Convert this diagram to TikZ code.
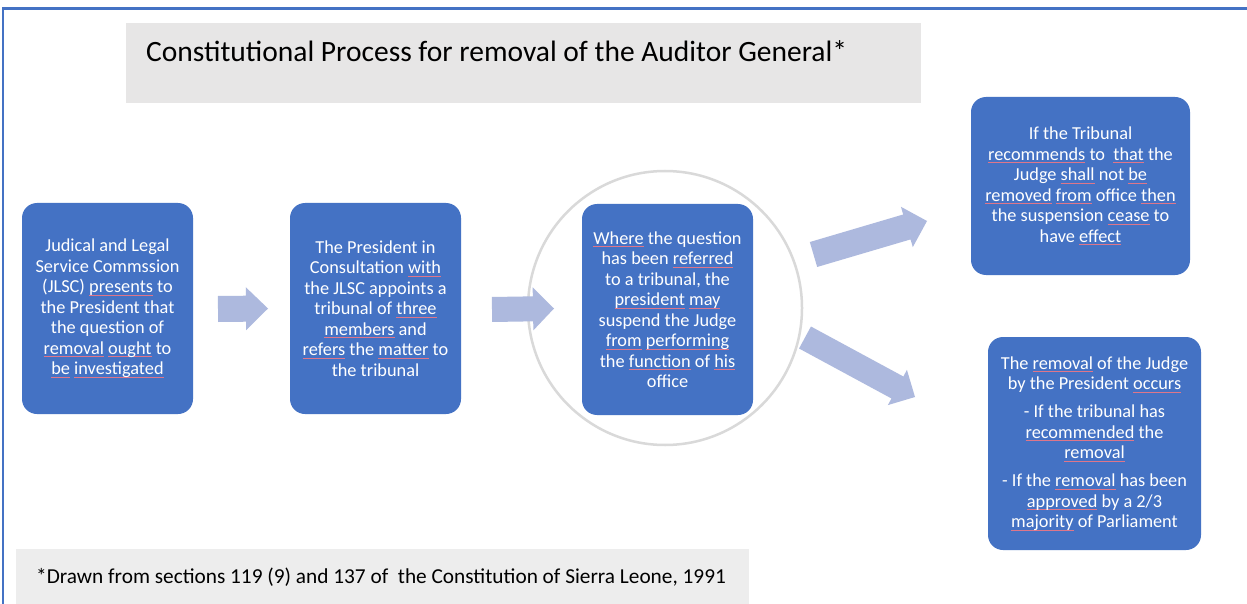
\documentclass[tikz,border=0pt]{standalone}
\usepackage{fontspec}
\setmainfont{Carlito}
\usetikzlibrary{calc}

\definecolor{boxblue}{HTML}{4472C4}
\definecolor{arrowblue}{RGB}{173,185,222}
\definecolor{titlegray}{HTML}{E7E6E6}
\definecolor{notegray}{HTML}{EDEDED}
\definecolor{ringgray}{HTML}{D9D9D9}
\definecolor{spellred}{RGB}{222,118,138}

% thin red underline for flagged words
\newsavebox\spellbox
\newcommand\spell[1]{\sbox\spellbox{#1}%
  \rlap{\textcolor{spellred}{\rule[-3pt]{\wd\spellbox}{1pt}}}\usebox\spellbox}

% block arrow: tail, tip, body half-width, head half-width, head length
\newcommand\blockarrow[5]{%
  \coordinate (neck) at ($(#2)!#5!(#1)$);
  \fill[arrowblue] ($(#1)!#3!90:(#2)$) -- ($(neck)!#3!90:(#2)$)
    -- ($(neck)!#4!90:(#2)$) -- (#2) -- ($(neck)!#4!-90:(#2)$)
    -- ($(neck)!#3!-90:(#2)$) -- ($(#1)!#3!-90:(#2)$) -- cycle;}

\begin{document}
\begin{tikzpicture}[x=1pt,y=-1pt,
  stepbox/.style={rectangle, rounded corners=15pt, fill=boxblue, text=white,
    align=center, inner sep=0pt,
    font=\fontsize{18.3}{20.5}\selectfont},
  banner/.style={rectangle, inner sep=0pt}]
\useasboundingbox (0,0) rectangle (1247,604);
\fill[white] (0,0) rectangle (1247,604);

% outer frame (top and left edges)
\draw[boxblue, line width=2.5pt] (3,604) -- (3,8.5) -- (1247,8.5);

% heading and footnote
\node[banner, fill=titlegray, minimum width=795pt, minimum height=80pt] (titlebar) at (523.5,63) {};
\node[anchor=base west, inner sep=0pt, font=\fontsize{29.5}{34}\selectfont] (title) at (146,61.5)
  {Constitutional Process for removal of the Auditor General*};
\node[banner, fill=notegray, minimum width=733pt, minimum height=55pt] (notebar) at (382.5,576.5) {};
\node[anchor=base west, inner sep=0pt, font=\fontsize{21.3}{25}\selectfont] (note) at (36,583)
  {*Drawn from sections 119 (9) and 137 of\ \ the Constitution of Sierra Leone, 1991};

% ring around the middle step
\node[circle, draw=ringgray, line width=2.5pt, minimum size=274pt, inner sep=0pt] (ring) at (665,308) {};

% steps
\node[stepbox, minimum width=171pt, minimum height=211pt] (b1) at (107.5,308.5)
  {Judical and Legal\\ Service Commssion\\ (JLSC) \spell{presents} to\\ the President that\\
   the question of\\ \spell{removal} \spell{ought} to\\ \spell{be} \spell{investigated}};
\node[stepbox, minimum width=171pt, minimum height=211pt] (b2) at (375.5,308.5)
  {The President in\\ Consultation \spell{with}\\ the JLSC appoints a\\ tribunal of \spell{three}\\
   \spell{members} and\\ \spell{refers} the \spell{matter} to\\ the tribunal};
\node[stepbox, minimum width=171pt, minimum height=211pt] (b3) at (667.5,309.5)
  {\spell{Where} the question\\ has been \spell{referred}\\ to a tribunal, the\\ \spell{president} \spell{may}\\
   suspend the Judge\\ \spell{from} \spell{performing}\\ the \spell{function} of \spell{his}\\ office};
\node[stepbox, minimum width=219pt, minimum height=178pt] (b4) at (1080.5,186)
  {If the Tribunal\\ \spell{recommends} to\ \ \spell{that} the\\ Judge \spell{shall} not \spell{be}\\
   \spell{removed} \spell{from} office \spell{then}\\ the suspension \spell{cease} to\\ have \spell{effect}};
\node[stepbox, minimum width=213pt, minimum height=213pt] (b5) at (1094.5,443.5)
  {The \spell{removal} of the Judge\\ by the President \spell{occurs}\\[7.5pt]
   - If the tribunal has\\ \spell{recommended} the\\ \spell{removal}\\[7.5pt]
   - If the \spell{removal} has been\\ \spell{approved} by a 2/3\\ \spell{majority} of Parliament};

% arrow ends
\coordinate (a1t) at (218,309);   \coordinate (a1h) at (268,308.5);
\coordinate (a2t) at (492,309.5); \coordinate (a2h) at (554,308.5);
\coordinate (a3t) at (813.5,254.5); \coordinate (a3h) at (927,221);
\coordinate (a4t) at (805,337.5); \coordinate (a4h) at (915,397);

\blockarrow{a1t}{a1h}{13pt}{21.5pt}{22pt}
\blockarrow{a2t}{a2h}{12.5pt}{21.5pt}{21pt}
\blockarrow{a3t}{a3h}{13pt}{21pt}{21pt}
\blockarrow{a4t}{a4h}{12.5pt}{20pt}{20pt}
\end{tikzpicture}
\end{document}
